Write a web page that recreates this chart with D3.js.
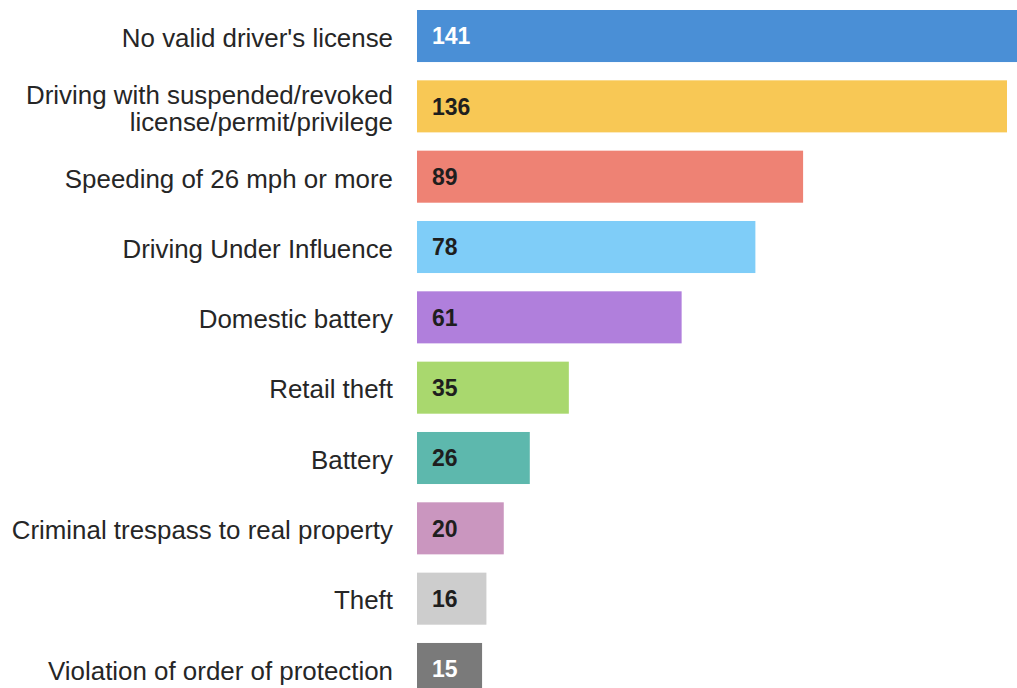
<!DOCTYPE html>
<html><head><meta charset="utf-8">
<script src="https://cdn.jsdelivr.net/npm/d3@7"></script>
<style>body{margin:0;background:#fff}svg{display:block}</style>
</head><body><svg id="c" width="1017" height="688"></svg>
<script>
const categories = ["No valid driver's license","Driving with suspended/revoked|license/permit/privilege","Speeding of 26 mph or more","Driving Under Influence","Domestic battery","Retail theft","Battery","Criminal trespass to real property","Theft","Violation of order of protection"];
const values = [141,136,89,78,61,35,26,20,16,15];
const colors = ["#4a8fd6","#f8c855","#ee8274","#7fcdf8","#b07fdc","#a9d86e","#5db8ad","#ca96bf","#cdcdcd","#7a7a7a"];
const labelColors = ["#fff","#1e1e1e","#1e1e1e","#1e1e1e","#1e1e1e","#1e1e1e","#1e1e1e","#1e1e1e","#1e1e1e","#fff"];

const svg = d3.select("#c");
const step = 70.33, pad = 0.26;
const y = d3.scaleBand().domain(categories).range([10 - step*pad/2, 10 - step*pad/2 + step*categories.length]).paddingInner(pad).paddingOuter(pad/2);
const x = d3.scaleLinear().domain([0,136]).range([417,1007]);

svg.selectAll("rect.bar").data(categories).join("rect").attr("class","bar")
  .attr("x", x(0)).attr("y", d=>y(d)).attr("height", y.bandwidth())
  .attr("width", (d,i)=>x(values[i])-x(0)).attr("fill",(d,i)=>colors[i]);

svg.selectAll("text.val").data(categories).join("text").attr("class","val")
  .attr("x", x(0)+15).attr("y", d=>y(d)+y.bandwidth()/2).attr("dy","0.36em")
  .attr("font-family","Liberation Sans, Arial, sans-serif").attr("font-weight","bold").attr("font-size",23)
  .attr("fill",(d,i)=>labelColors[i]).text((d,i)=>values[i]);

const lab = svg.selectAll("text.cat").data(categories).join("text").attr("class","cat")
  .attr("text-anchor","end").attr("x",393)
  .attr("font-family","Liberation Sans, Arial, sans-serif").attr("font-size",25.9).attr("fill","#262626");
lab.each(function(d){
  const parts = d.split("|");
  const t = d3.select(this);
  const cy = y(d)+y.bandwidth()/2;
  const lh = 27;
  parts.forEach((p,k)=>{
    t.append("tspan").attr("x",393).attr("y", cy + 1.5 + (k-(parts.length-1)/2)*lh).attr("dy","0.36em").text(p);
  });
});
</script></body></html>
